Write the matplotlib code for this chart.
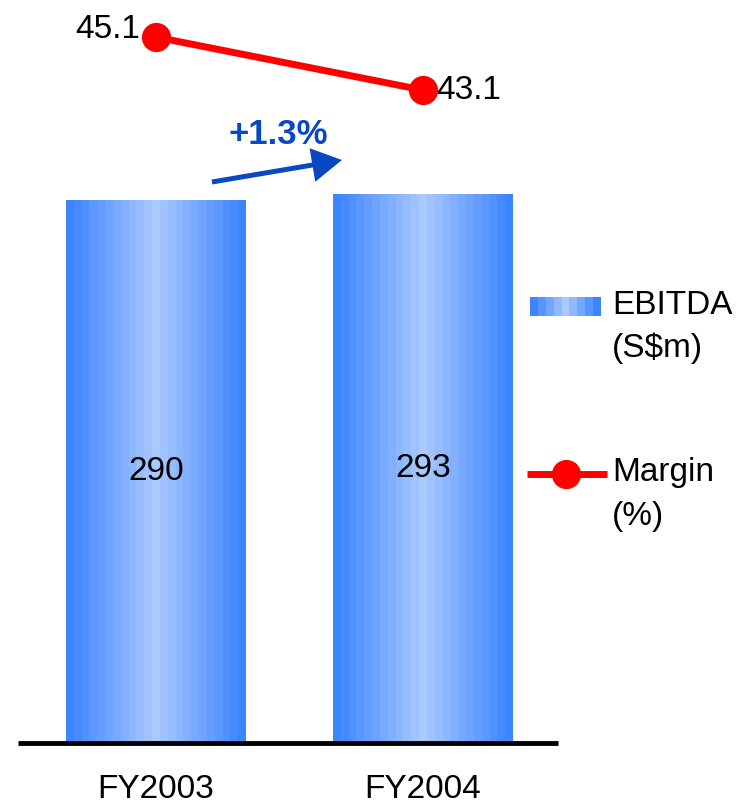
import numpy as np
import matplotlib
matplotlib.use("Agg")
import matplotlib.pyplot as plt
from matplotlib.colors import LinearSegmentedColormap
from matplotlib.patches import FancyArrow

plt.rcParams['font.family'] = ['Liberation Sans', 'DejaVu Sans']

years = ["FY2003", "FY2004"]
ebitda = [290, 293]
margin = [45.1, 43.1]
growth_label = "+1.3%"

W, H = 740, 807
FS = 24
fig = plt.figure(figsize=(W / 100, H / 100), dpi=100)

# main axes spans the whole figure; limits chosen so bars sit on the baseline
ax = fig.add_axes([0, 0, 1, 1])
ax.set_xlim(-0.584, 2.187)
ax.set_ylim(-34.2, 396.8)
ax.axis("off")

# banded horizontal gradient for the bars
edge, mid = "#3D85FF", "#AACAFF"
cmap = LinearSegmentedColormap.from_list("bar", [edge, mid, edge])
bands = np.linspace(0, 1, 23).reshape(1, -1)
bw = 0.674
xs = np.arange(len(years))
for x, v in zip(xs, ebitda):
    ax.imshow(bands, cmap=cmap, aspect="auto", interpolation="nearest",
              extent=[x - bw / 2, x + bw / 2, 0, v], zorder=2)
    ax.text(x, v / 2, str(v), ha="center", va="center", fontsize=FS, zorder=3)
    ax.text(x, -33.3, years[x], ha="center", va="bottom", fontsize=FS)

# baseline
ax.plot([-0.517, 1.506], [0, 0], color="black", lw=3.5, solid_capstyle="butt", zorder=4)

# margin line on its own scale
ax2 = fig.add_axes([0, 0, 1, 1], sharex=ax)
ax2.set_ylim(16.04, 46.5)
ax2.axis("off")
ax2.patch.set_alpha(0)
ax2.plot(xs, margin, color="#FF0000", lw=5, marker="o", markersize=20,
         solid_capstyle="butt", zorder=6)
ax2.text(xs[0] - 0.06, margin[0] + 0.3, f"{margin[0]}", ha="right", va="center",
         fontsize=FS)
ax2.text(xs[1] + 0.05, margin[1] + 0.0, f"{margin[1]}", ha="left", va="center",
         fontsize=FS)

# overlay in pixel units for the arrow and the legend
lg = fig.add_axes([0, 0, 1, 1])
lg.axis("off")
lg.patch.set_alpha(0)

# growth arrow
blue = "#0A47C2"
lg.add_patch(FancyArrow(212, 182, 130, -22, width=5, head_width=34,
                        head_length=30, length_includes_head=True,
                        color=blue, lw=0))
lg.text(278, 135, growth_label, ha="center", va="center", fontsize=FS + 1,
        fontweight="bold", color=blue)

lg.imshow(np.linspace(0, 1, 9).reshape(1, -1), cmap=cmap, aspect="auto",
          interpolation="nearest", extent=[530, 601, 316, 297])
lg.text(612, 306, "EBITDA", ha="left", va="center", fontsize=FS)
lg.text(612, 348, "(S$m)", ha="left", va="center", fontsize=FS)
lg.plot([527, 607], [474, 474], color="#FF0000", lw=5, solid_capstyle="butt")
lg.plot([566], [474], marker="o", color="#FF0000", markersize=20)
lg.text(612, 473, "Margin", ha="left", va="center", fontsize=FS)
lg.text(612, 517, "(%)", ha="left", va="center", fontsize=FS)
lg.set_xlim(0, W)
lg.set_ylim(H, 0)

fig.savefig("out.png", dpi=100)
